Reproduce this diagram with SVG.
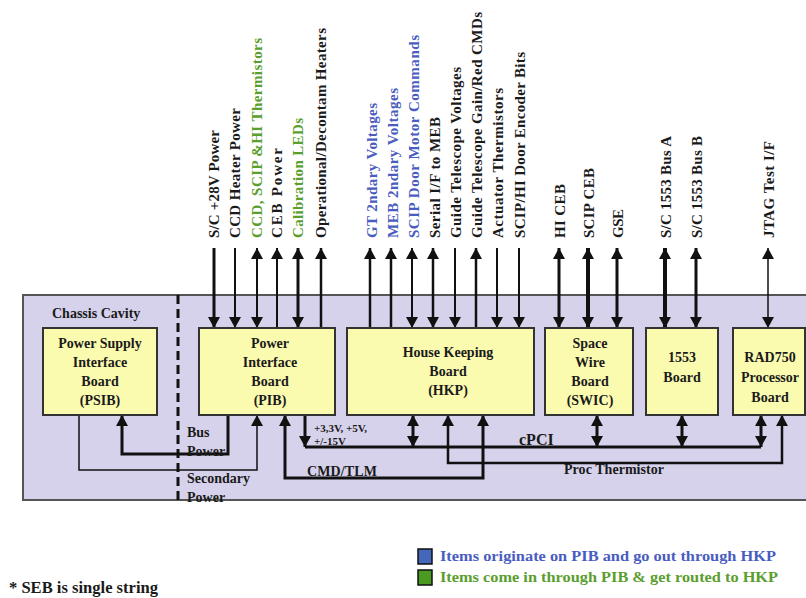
<svg xmlns="http://www.w3.org/2000/svg" width="806" height="598" viewBox="0 0 806 598">
<style>
text{font-family:"Liberation Serif","Times New Roman",serif;font-weight:bold;fill:#1a1a1a}
.lbl{font-size:15px}
.g{fill:#5a9e2e}
.b{fill:#4a5cc0}
.box{fill:#fbfbb0;stroke:#333;stroke-width:2}
.bt{font-size:14px;text-anchor:middle}
.w{fill:none;stroke:#111;stroke-linejoin:miter}
</style>
<defs>
<marker id="ah" viewBox="0 0 11 12" refX="11" refY="6" markerWidth="11" markerHeight="12" markerUnits="userSpaceOnUse" orient="auto-start-reverse"><path d="M0,0 L11,6 L0,12 z" fill="#111"/></marker>
</defs>
<rect width="806" height="598" fill="#fff"/>
<g id="chassis">
<rect x="23" y="295" width="800" height="205" fill="#d6d2eb" stroke="#555" stroke-width="2"/>
<line x1="178" y1="295" x2="178" y2="500" stroke="#111" stroke-width="3" stroke-dasharray="9,5"/>
<text x="52" y="318" font-size="14">Chassis Cavity</text>
</g>
<g id="connectors">
<!-- top PIB -->
<path class="w" d="M214,248V328" stroke-width="3" marker-end="url(#ah)"/>
<path class="w" d="M235,248V328" stroke-width="2" marker-end="url(#ah)"/>
<path class="w" d="M257,248V328" stroke-width="2" marker-start="url(#ah)" marker-end="url(#ah)"/>
<path class="w" d="M277,248V328" stroke-width="2" marker-start="url(#ah)"/>
<path class="w" d="M298,248V328" stroke-width="3" marker-start="url(#ah)" marker-end="url(#ah)"/>
<path class="w" d="M321,248V328" stroke-width="2.5" marker-start="url(#ah)"/>
<!-- top HKP -->
<path class="w" d="M370,248V328" stroke-width="2.5" marker-start="url(#ah)"/>
<path class="w" d="M391,248V328" stroke-width="2.5" marker-start="url(#ah)"/>
<path class="w" d="M412,248V328" stroke-width="2" marker-start="url(#ah)" marker-end="url(#ah)"/>
<path class="w" d="M433,248V328" stroke-width="2.5" marker-start="url(#ah)" marker-end="url(#ah)"/>
<path class="w" d="M455,248V328" stroke-width="2" marker-end="url(#ah)"/>
<path class="w" d="M476,248V328" stroke-width="2.5" marker-start="url(#ah)"/>
<path class="w" d="M497,248V328" stroke-width="2" marker-end="url(#ah)"/>
<path class="w" d="M519,248V328" stroke-width="2" marker-end="url(#ah)"/>
<!-- top others -->
<path class="w" d="M559,248V328" stroke-width="3" marker-start="url(#ah)" marker-end="url(#ah)"/>
<path class="w" d="M588,248V328" stroke-width="4" marker-start="url(#ah)" marker-end="url(#ah)"/>
<path class="w" d="M617,248V328" stroke-width="3" marker-start="url(#ah)" marker-end="url(#ah)"/>
<path class="w" d="M665,248V328" stroke-width="4" marker-start="url(#ah)" marker-end="url(#ah)"/>
<path class="w" d="M696,248V328" stroke-width="3" marker-start="url(#ah)" marker-end="url(#ah)"/>
<path class="w" d="M768,248V328" stroke-width="1.5" marker-start="url(#ah)" marker-end="url(#ah)"/>
<!-- bottom -->
<path class="w" d="M228,415V454H122V415" stroke-width="3" marker-end="url(#ah)"/>
<path class="w" d="M79,415V470H257V415" stroke-width="1.5" marker-end="url(#ah)"/>
<path class="w" d="M483,415V478H285V415" stroke-width="3" marker-start="url(#ah)" marker-end="url(#ah)"/>
<path class="w" d="M448,415V463H782V415" stroke-width="2.5" marker-start="url(#ah)" marker-end="url(#ah)"/>
<path class="w" d="M305,415V447" stroke-width="3" marker-end="url(#ah)"/>
<path class="w" d="M305,447H761" stroke-width="3"/>
<path class="w" d="M413,415V447" stroke-width="3" marker-start="url(#ah)" marker-end="url(#ah)"/>
<path class="w" d="M597,415V447" stroke-width="3" marker-start="url(#ah)" marker-end="url(#ah)"/>
<path class="w" d="M682,415V447" stroke-width="3" marker-start="url(#ah)" marker-end="url(#ah)"/>
<path class="w" d="M761,415V447" stroke-width="3" marker-start="url(#ah)" marker-end="url(#ah)"/>
</g>
<g id="top-labels" class="lbl">
<text class="lbl" transform="translate(219,238) rotate(-90)" textLength="108">S/C +28V Power</text>
<text class="lbl" transform="translate(240,238) rotate(-90)" textLength="130">CCD Heater Power</text>
<text class="lbl g" transform="translate(262,238) rotate(-90)" textLength="200">CCD, SCIP &amp;HI Thermistors</text>
<text class="lbl" transform="translate(282,238) rotate(-90)" textLength="90">CEB Power</text>
<text class="lbl g" transform="translate(303,238) rotate(-90)" textLength="120">Calibration LEDs</text>
<text class="lbl" transform="translate(326,238) rotate(-90)" textLength="210">Operational/Decontam Heaters</text>
<text class="lbl b" transform="translate(377,238) rotate(-90)" textLength="135">GT 2ndary Voltages</text>
<text class="lbl b" transform="translate(398,238) rotate(-90)" textLength="150">MEB 2ndary Voltages</text>
<text class="lbl b" transform="translate(419,238) rotate(-90)" textLength="203">SCIP Door Motor Commands</text>
<text class="lbl" transform="translate(440,238) rotate(-90)" textLength="121">Serial I/F to MEB</text>
<text class="lbl" transform="translate(461,238) rotate(-90)" textLength="171">Guide Telescope Voltages</text>
<text class="lbl" transform="translate(482,238) rotate(-90)" textLength="226">Guide Telescope Gain/Red CMDs</text>
<text class="lbl" transform="translate(503,238) rotate(-90)" textLength="150">Actuator Thermistors</text>
<text class="lbl" transform="translate(525,238) rotate(-90)" textLength="186">SCIP/HI Door Encoder Bits</text>
<text class="lbl" transform="translate(565,238) rotate(-90)" textLength="54">HI CEB</text>
<text class="lbl" transform="translate(594,238) rotate(-90)" textLength="70">SCIP CEB</text>
<text class="lbl" transform="translate(623,238) rotate(-90)" textLength="29">GSE</text>
<text class="lbl" transform="translate(671,238) rotate(-90)" textLength="102">S/C 1553 Bus A</text>
<text class="lbl" transform="translate(702,238) rotate(-90)" textLength="102">S/C 1553 Bus B</text>
<text class="lbl" transform="translate(774,238) rotate(-90)" textLength="97">JTAG Test I/F</text>
</g>
<g id="psib">
<rect class="box" x="43" y="328" width="114" height="87"/>
<text class="bt" x="100" y="348">Power Supply</text>
<text class="bt" x="100" y="367">Interface</text>
<text class="bt" x="100" y="386">Board</text>
<text class="bt" x="100" y="405">(PSIB)</text>
</g>
<g id="pib">
<rect class="box" x="199" y="328" width="136" height="87"/>
<text class="bt" x="270" y="348">Power</text>
<text class="bt" x="270" y="367">Interface</text>
<text class="bt" x="270" y="386">Board</text>
<text class="bt" x="270" y="405">(PIB)</text>
</g>
<g id="hkp">
<rect class="box" x="347" y="328" width="187" height="87"/>
<text class="bt" x="448" y="357">House Keeping</text>
<text class="bt" x="448" y="376">Board</text>
<text class="bt" x="448" y="395">(HKP)</text>
</g>
<g id="swic">
<rect class="box" x="545" y="328" width="88" height="87"/>
<text class="bt" x="590" y="348">Space</text>
<text class="bt" x="590" y="367">Wire</text>
<text class="bt" x="590" y="386">Board</text>
<text class="bt" x="590" y="405">(SWIC)</text>
</g>
<g id="b1553">
<rect class="box" x="646" y="328" width="72" height="87"/>
<text class="bt" x="682" y="362">1553</text>
<text class="bt" x="682" y="382">Board</text>
</g>
<g id="rad750">
<rect class="box" x="733" y="328" width="72" height="87"/>
<text class="bt" x="770" y="362">RAD750</text>
<text class="bt" x="770" y="382">Processor</text>
<text class="bt" x="770" y="402">Board</text>
</g>
<g id="bottom-labels">
<text x="187" y="437" font-size="14">Bus</text>
<text x="187" y="456" font-size="14">Power</text>
<text x="187" y="483" font-size="14">Secondary</text>
<text x="187" y="502" font-size="14">Power</text>
<text x="314" y="432" font-size="11">+3,3V, +5V,</text>
<text x="314" y="445" font-size="11">+/-15V</text>
<text x="519" y="445" font-size="16">cPCI</text>
<text x="307" y="476" font-size="14" textLength="70">CMD/TLM</text>
<text x="564" y="474" font-size="14" textLength="100">Proc Thermistor</text>
</g>
<g id="legend">
<rect x="418" y="549" width="14" height="15" fill="#4466bb" stroke="#111" stroke-width="1.5"/>
<rect x="418" y="570" width="14" height="15" fill="#4b9a22" stroke="#111" stroke-width="1.5"/>
<text x="440" y="561" font-size="15" class="b" textLength="336" lengthAdjust="spacingAndGlyphs">Items originate on PIB and go out through HKP</text>
<text x="440" y="582" font-size="15" class="g" textLength="338" lengthAdjust="spacingAndGlyphs">Items come in through PIB &amp; get routed to HKP</text>
<text x="9" y="593" font-size="17" textLength="149" lengthAdjust="spacingAndGlyphs">* SEB is single string</text>
</g>
</svg>
